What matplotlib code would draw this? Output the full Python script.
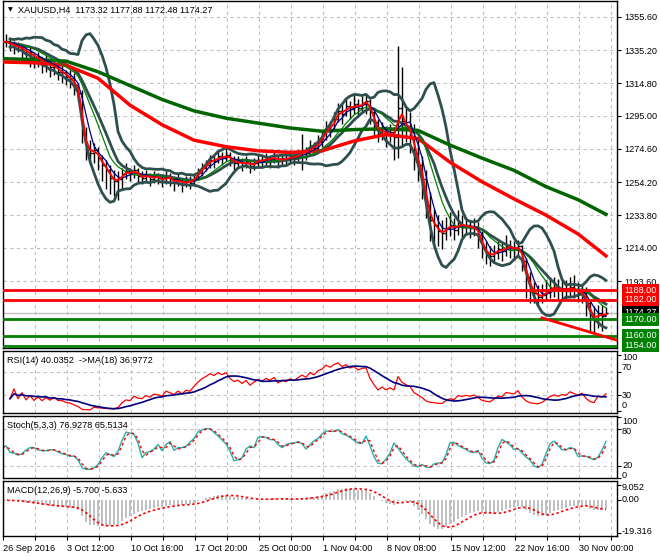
import numpy as np
import pandas as pd
import matplotlib
matplotlib.use("Agg")
import matplotlib.pyplot as plt
from matplotlib.transforms import blended_transform_factory

plt.rcParams['font.family'] = ['Liberation Sans', 'DejaVu Sans']
FS = 6.6

# XAUUSD H4 bars (one bar kept out of two)
closes = [1340, 1341, 1338, 1339, 1336, 1337, 1333, 1334, 1330, 1331,
          1327, 1328, 1325, 1326, 1322, 1322, 1319, 1318, 1314, 1309,
          1284, 1276, 1272, 1274, 1269, 1265, 1262, 1257, 1255, 1256,
          1259, 1261, 1259, 1262, 1258, 1257, 1259, 1256, 1258, 1257,
          1255, 1258, 1256, 1254, 1256, 1253, 1255, 1254, 1257, 1260,
          1263, 1265, 1268, 1267, 1270, 1269, 1271, 1268, 1266, 1267,
          1265, 1267, 1264, 1266, 1268, 1267, 1269, 1268, 1270, 1267,
          1269, 1268, 1270, 1269, 1271, 1273, 1272, 1276, 1275, 1279,
          1281, 1288, 1287, 1293, 1298, 1296, 1301, 1299, 1302, 1300,
          1303, 1304, 1297, 1291, 1284, 1287, 1283, 1285, 1282, 1300,
          1292, 1288, 1285, 1272, 1265, 1256, 1240, 1231, 1228, 1224,
          1223, 1226, 1228, 1225, 1229, 1227, 1228, 1226, 1227, 1222,
          1214, 1211, 1209, 1211, 1213, 1212, 1215, 1214, 1213, 1215,
          1206, 1196, 1189, 1186, 1184, 1185, 1187, 1189, 1190, 1188,
          1189, 1188, 1190, 1188, 1186, 1187, 1180, 1173, 1170, 1174,
          1172, 1174.27]
highs = [1344, 1345, 1343, 1341, 1340, 1339, 1336, 1337, 1333, 1334,
         1331, 1332, 1329, 1330, 1327, 1326, 1323, 1323, 1321, 1315,
         1311, 1288, 1280, 1278, 1276, 1271, 1268, 1265, 1262, 1261,
         1263, 1266, 1263, 1265, 1263, 1261, 1262, 1260, 1261, 1260,
         1259, 1261, 1260, 1258, 1259, 1257, 1258, 1258, 1260, 1263,
         1266, 1268, 1271, 1270, 1274, 1273, 1277, 1273, 1270, 1270,
         1269, 1270, 1268, 1269, 1271, 1270, 1272, 1271, 1273, 1271,
         1272, 1271, 1274, 1272, 1274, 1284, 1276, 1280, 1279, 1283,
         1285, 1292, 1292, 1297, 1303, 1302, 1306, 1304, 1308, 1305,
         1307, 1308, 1305, 1298, 1293, 1291, 1289, 1290, 1288, 1338,
         1325, 1300, 1297, 1290, 1281, 1270, 1262, 1248, 1238, 1234,
         1231, 1233, 1236, 1232, 1237, 1234, 1233, 1231, 1232, 1230,
         1224, 1218, 1215, 1216, 1218, 1217, 1222, 1219, 1218, 1219,
         1216, 1208, 1199, 1193, 1191, 1192, 1194, 1196, 1196, 1195,
         1195, 1194, 1196, 1197, 1193, 1192, 1190, 1182, 1178, 1179,
         1179, 1177.88]
lows = [1336, 1337, 1335, 1333, 1334, 1330, 1328, 1325, 1324, 1325,
        1321, 1322, 1319, 1320, 1317, 1315, 1314, 1312, 1308, 1304,
        1278, 1268, 1265, 1266, 1262, 1255, 1250, 1247, 1246, 1243,
        1250, 1256, 1255, 1257, 1254, 1253, 1255, 1252, 1254, 1253,
        1251, 1253, 1252, 1249, 1252, 1248, 1251, 1250, 1252, 1256,
        1258, 1261, 1263, 1263, 1266, 1265, 1267, 1264, 1262, 1263,
        1261, 1263, 1260, 1262, 1264, 1263, 1265, 1263, 1266, 1263,
        1264, 1264, 1266, 1265, 1267, 1262, 1268, 1272, 1271, 1274,
        1276, 1280, 1282, 1286, 1291, 1290, 1295, 1293, 1296, 1294,
        1298, 1296, 1290, 1283, 1279, 1280, 1276, 1279, 1268, 1269,
        1276, 1279, 1272, 1262, 1255, 1244, 1232, 1218, 1213, 1215,
        1213, 1219, 1221, 1219, 1222, 1220, 1222, 1220, 1221, 1214,
        1208, 1204, 1203, 1205, 1207, 1206, 1209, 1208, 1207, 1209,
        1200, 1183, 1180, 1180, 1179, 1180, 1182, 1183, 1184, 1182,
        1183, 1182, 1184, 1183, 1181, 1180, 1172, 1163, 1162, 1165,
        1163, 1172.48]

# slow moving averages, read every 8th bar
slow_idx = [0, 8, 16, 24, 32, 40, 48, 56, 64, 72, 80, 88, 96, 104, 112,
            120, 128, 136, 144, 151]
ma_green_slow = [1330, 1329.5, 1328.5, 1322, 1313.5, 1305, 1298, 1293.5,
                 1290.5, 1287.5, 1285.5, 1286.5, 1287, 1286, 1277, 1269,
                 1261.5, 1251.5, 1243.5, 1234.5]
ma_red_slow = [1328, 1327.5, 1326, 1318, 1301.5, 1289.5, 1280, 1276, 1273.5,
               1272.5, 1273.5, 1279.5, 1283.5, 1281, 1266.5, 1254.5, 1244,
               1234, 1222.5, 1209]

red_levels = [1188.0, 1182.0]
green_levels = [1170.0, 1160.0, 1154.0]
bid = 1174.27
trend_bars = [135, 151]
trend_prices = [1171.0, 1159.3]

price_ticks = [1355.60, 1335.20, 1314.80, 1295.00, 1274.60, 1254.20,
               1233.80, 1214.00, 1193.60]
date_labels = ["26 Sep 2016", "3 Oct 12:00", "10 Oct 16:00", "17 Oct 20:00",
               "25 Oct 00:00", "1 Nov 04:00", "8 Nov 08:00", "15 Nov 12:00",
               "22 Nov 16:00", "30 Nov 00:00"]

# right hand labels of the sub windows: (text, pixel row in the terminal)
rsi_labels = [("100", 357), ("70", 368), ("30", 395), ("0", 406)]
stoch_labels = [("100", 421), ("80", 431), ("20", 465), ("0", 475)]
macd_labels = [("9.052", 488), ("0.00", 500), ("-19.316", 532)]

assert len(closes) == len(highs) == len(lows)

#indicators from the closes
s = pd.Series(closes, dtype=float)
hs = pd.Series(highs, dtype=float)
ls = pd.Series(lows, dtype=float)
x = np.arange(len(s))

ma_fast = s.rolling(2, min_periods=1).mean()
ma_mid = s.rolling(4, min_periods=1).mean()
ma_slow = s.rolling(8, min_periods=1).mean()
bb_mid = s.rolling(10, min_periods=3).mean()
bb_sd = s.rolling(10, min_periods=3).std(ddof=0)

delta = s.diff().fillna(0)
up = delta.clip(lower=0).ewm(alpha=1/9, adjust=True, min_periods=3).mean()
dn = (-delta.clip(upper=0)).ewm(alpha=1/9, adjust=True, min_periods=3).mean()
rsi = 100 * up / (up + dn)
rsi_ma = rsi.rolling(9, min_periods=1).mean()

ll = ls.rolling(4, min_periods=1).min()
hh = hs.rolling(4, min_periods=1).max()
stoch_k = 100 * (s - ll).rolling(2, min_periods=1).sum() / (hh - ll).rolling(2, min_periods=1).sum()
stoch_d = stoch_k.rolling(2, min_periods=1).mean()

macd = s.ewm(span=6, adjust=False).mean() - s.ewm(span=13, adjust=False).mean()
macd_sig = macd.rolling(5, min_periods=1).mean()

#figure layout, pixel based like the terminal
W, H = 660, 560
fig = plt.figure(figsize=(W / 100, H / 100), dpi=100)
fig.patch.set_facecolor('white')


def panel(top, bottom):
    a = fig.add_axes([3 / W, 1 - bottom / H, 614 / W, (bottom - top) / H])
    a.set_xlim(0.25, 153.75)
    a.yaxis.tick_right()
    a.tick_params(axis='y', direction='out', length=3, width=0.8, pad=2,
                  labelsize=FS, colors='black')
    a.set_xticks(np.arange(0.25, 154, 8))
    a.tick_params(axis='x', bottom=False, labelbottom=False)
    a.grid(axis='x', color='#C0C0C0', lw=0.8, ls=(0, (3, 3)))
    a.set_axisbelow(True)
    for sp in a.spines.values():
        sp.set_linewidth(1.0)
        sp.set_color('black')
    return a


def side_labels(a, ticks, labels):
    a.set_yticks(ticks)
    a.set_yticklabels([])
    for txt, row in labels:
        fig.text(622 / W, 1 - row / H, txt, fontsize=FS, va='center', ha='left')


ax = panel(1, 348)
ax_rsi = panel(351, 413)
ax_st = panel(416, 478)
ax_m = panel(481, 536)

gridkw = dict(color='#C0C0C0', lw=0.8, ls=(0, (3, 3)), zorder=0)

# main window
ax.set_ylim(1152.5, 1365.4)
ax.set_yticks(price_ticks)
ax.set_yticklabels([f"{v:.2f}" for v in price_ticks])
ax.grid(axis='y', **gridkw)
ax.axhline(bid, color='#C0C0C0', lw=1, zorder=1)

opens = [closes[0]] + closes[:-1]
ax.vlines(x, lows, highs, color='black', lw=1, zorder=2)
ax.hlines(opens, x - 0.4, x, color='black', lw=1, zorder=2)
ax.hlines(closes, x, x + 0.4, color='black', lw=1, zorder=2)

bbc = '#2F4F4F'
ax.plot(x, bb_mid, color=bbc, lw=2, zorder=3)
ax.plot(x, bb_mid + 2 * bb_sd, color=bbc, lw=2, zorder=3)
ax.plot(x, bb_mid - 2 * bb_sd, color=bbc, lw=2, zorder=3)
ax.plot(slow_idx, ma_green_slow, color='#006400', lw=2.5, zorder=3)
ax.plot(slow_idx, ma_red_slow, color='#FF0000', lw=2.5, zorder=3)
ax.plot(x, ma_slow, color='#008000', lw=0.9, zorder=4)
ax.plot(x, ma_mid, color='#00008B', lw=0.9, zorder=4)
ax.plot(x, ma_fast, color='#FF0000', lw=1.4, zorder=4)

for lv in red_levels:
    ax.axhline(lv, color='#FF0000', lw=2, zorder=5)
for lv in green_levels:
    ax.axhline(lv, color='#008000', lw=2, zorder=5)

slope = (trend_prices[1] - trend_prices[0]) / (trend_bars[1] - trend_bars[0])
tx = np.array([trend_bars[0], 160])
ax.plot(tx, trend_prices[0] + slope * (tx - trend_bars[0]), color='#FF0000', lw=2, zorder=5)

tr = blended_transform_factory(ax.transAxes, ax.transData)
boxes = [(bid, '#000000', 6)] + [(lv, '#FF0000', 7) for lv in red_levels] + \
        [(lv, '#008000', 7) for lv in green_levels]
for lv, col, z in boxes:
    ax.text(1.012, lv, f"{lv:.2f}", transform=tr, ha='left', va='center',
            fontsize=FS, color='white', zorder=z, clip_on=False,
            bbox=dict(boxstyle='square,pad=0.22', fc=col, ec='none'))

fig.text(8 / W, 1 - 10 / H, "\u25BC", fontsize=4.5, va='center', ha='left',
         family=['DejaVu Sans'])
fig.text(18 / W, 1 - 10 / H, "XAUUSD,H4  1173.32 1177.88 1172.48 1174.27",
         fontsize=FS, va='center', ha='left')

# RSI window
ax_rsi.set_ylim(-2.7, 108)
side_labels(ax_rsi, [0, 30, 70, 100], rsi_labels)
for lv in [30, 70]:
    ax_rsi.axhline(lv, **gridkw)
ax_rsi.plot(x, rsi, color='#FF0000', lw=0.9)
ax_rsi.plot(x, rsi_ma, color='#000080', lw=1.2)
fig.text(7 / W, 1 - 360.5 / H, "RSI(14) 40.0352  ->MA(18) 36.9772",
         fontsize=FS, va='center', ha='left')

# Stochastic window
ax_st.set_ylim(1, 102)
side_labels(ax_st, [0, 20, 80, 100], stoch_labels)
for lv in [20, 80]:
    ax_st.axhline(lv, **gridkw)
ax_st.plot(x, stoch_k, color='#20B2AA', lw=1)
ax_st.plot(x, stoch_d, color='#FF0000', lw=1, ls=(0, (2, 2)))
fig.text(7 / W, 1 - 425.5 / H, "Stoch(5,3,3) 76.9278 65.5134",
         fontsize=FS, va='center', ha='left')

# MACD window
ax_m.set_ylim(-21.2, 11.5)
side_labels(ax_m, [9.052, 0.0, -19.316], macd_labels)
ax_m.bar(x, macd, width=0.45, color='#C0C0C0', zorder=1)
ax_m.plot(x, macd_sig, color='#FF0000', lw=1.2, ls=(0, (1.5, 1.5)), zorder=2)
fig.text(7 / W, 1 - 490.5 / H, "MACD(12,26,9) -5.700 -5.633",
         fontsize=FS, va='center', ha='left')

ax_m.tick_params(axis='x', bottom=True, labelbottom=True, direction='out',
                 length=3, width=0.8, pad=3, labelsize=FS)
ticks = np.arange(0.25, 154, 8)
labels = []
for k in range(len(ticks)):
    labels.append(date_labels[k // 2] if k % 2 == 0 and k // 2 < len(date_labels) else "")
ax_m.set_xticks(ticks)
ax_m.set_xticklabels(labels)
for t in ax_m.get_xticklabels():
    t.set_horizontalalignment('left')

fig.savefig("out.png", dpi=100)
